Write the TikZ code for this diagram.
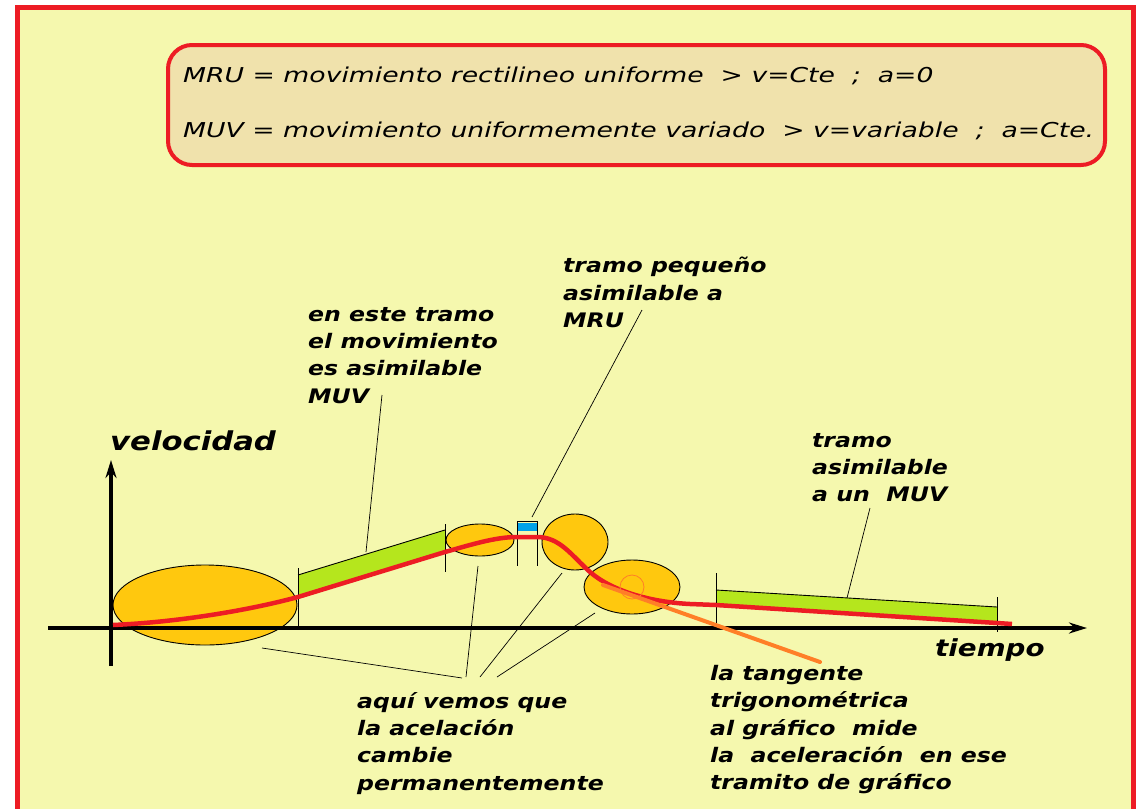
\documentclass[tikz,border=0pt]{standalone}
\usepackage{fontspec}
\newfontfamily\mano[FakeStretch=1.18]{DejaVu Sans}
\newfontfamily\manocab[FakeStretch=1.3]{DejaVu Sans}
\usetikzlibrary{arrows.meta}
\definecolor{fondo}{RGB}{245,248,174}
\definecolor{marco}{RGB}{237,28,36}
\definecolor{caja}{RGB}{240,226,172}
\definecolor{ambar}{RGB}{255,200,14}
\definecolor{lima}{RGB}{181,230,29}
\definecolor{celeste}{RGB}{0,162,232}
\definecolor{naranja}{RGB}{255,127,39}
\tikzset{
  zona/.style={draw=black, fill=ambar, line width=0.9pt},
  corte/.style={line width=0.9pt},
  guia/.style={line width=0.7pt},
  eje/.style={line width=3.6pt, -{Stealth[length=18pt,width=11pt]}},
  rotulo/.style={font=\mano\bfseries\itshape\fontsize{20}{27.3}\selectfont, align=left, anchor=north west, inner sep=0pt},
  titulo/.style={font=\manocab\itshape\fontsize{20.5}{23}\selectfont, anchor=base west, inner sep=0pt},
}
\begin{document}
\begin{tikzpicture}[x=1pt, y=-1pt]
	\useasboundingbox (0,0) rectangle (1136,809);
	\draw[marco, line width=5pt, fill=fondo] (17.5,7.5) rectangle (1133.5,830);
	\draw[marco, line width=4pt, fill=caja, rounded corners=24pt] (168,45) rectangle (1105,165);
	\node[titulo] (mru) at (183,82) {MRU = movimiento rectilineo uniforme \ > v=Cte \ ; \ a=0};
	\node[titulo] (muv) at (183,137) {MUV = movimiento uniformemente variado \ > v=variable \ ; \ a=Cte.};

	\draw[zona] (205,605) ellipse (92 and 40);
	\fill[lima] (298,575) -- (445,530) -- (445,552) -- (298,597) -- cycle;
	\draw[corte] (298,575) -- (445,530);
	\draw[corte] (298,568) -- (298,630);
	\draw[corte] (445,524) -- (445,572);
	\draw[zona] (480,540) ellipse (34 and 16);
	\fill[celeste] (517,523) rectangle (537,531);
	\draw[corte] (517,521) -- (537,521);
	\draw[corte] (517,521) -- (517,566);
	\draw[corte] (537,521) -- (537,566);
	\draw[zona] (575,542) ellipse (33 and 28);
	\draw[zona] (632,587) ellipse (48 and 27);
	\fill[lima] (716,590) -- (997,607) -- (997,623) -- (716,605) -- cycle;
	\draw[corte] (716,590) -- (997,607);
	\draw[corte] (716,573) -- (716,628);
	\draw[corte] (997,597) -- (997,632);

	\draw[eje] (48,628) -- (1087,628);
	\draw[eje] (111,666) -- (111,460);

	\draw[marco, line width=4.5pt] (113,625) .. controls (180,622) and (250,610) .. (298,597)
		-- (445,552) .. controls (470,545) and (495,537) .. (517,537) -- (537,537)
		.. controls (560,537) and (572,556) .. (590,572) .. controls (612,591) and (650,602) .. (690,604)
		-- (716,605) -- (997,623) -- (1012,624);
	\draw[naranja, line width=0.8pt] (632,587) circle (12);
	\draw[naranja, line width=4pt, line cap=round] (603,585) -- (820,662);

	\node[font=\mano\bfseries\itshape\fontsize{26}{30}\selectfont, anchor=base west, inner sep=0pt] (vel) at (110,450) {velocidad};
	\node[font=\mano\bfseries\itshape\fontsize{23.5}{30}\selectfont, anchor=base west, inner sep=0pt] (tiempo) at (935,656) {tiempo};

	\node[rotulo] (asimuv) at (308,307) {en este tramo\\el movimiento\\es asimilable\\MUV};
	\node[rotulo] (pequeno) at (563,257) {tramo pequeño\\asimilable a\\MRU};
	\node[rotulo] (final) at (812,433) {tramo\\asimilable\\a un \ MUV};
	\node[rotulo] (acel) at (357,692) {aquí vemos que\\la acelación\\cambie\\permanentemente};
	\node[rotulo] (tang) at (710,665) {la tangente\\trigonométrica\\al gráfico \ mide\\la \ aceleración \ en ese\\tramito de gráfico};

	\coordinate (m1) at (382,395);
	\coordinate (m2) at (366,552);
	\coordinate (r1) at (642,310);
	\coordinate (r2) at (532,517);
	\coordinate (f1) at (870,508);
	\coordinate (f2) at (847,598);
	\coordinate (a0) at (262,648);
	\coordinate (a1) at (462,678);
	\coordinate (b0) at (478,566);
	\coordinate (b1) at (466,677);
	\coordinate (c0) at (562,573);
	\coordinate (c1) at (480,677);
	\coordinate (d0) at (595,613);
	\coordinate (d1) at (497,677);
	\draw[guia] (m1) -- (m2);
	\draw[guia] (r1) -- (r2);
	\draw[guia] (f1) -- (f2);
	\draw[guia] (a0) -- (a1);
	\draw[guia] (b0) -- (b1);
	\draw[guia] (c0) -- (c1);
	\draw[guia] (d0) -- (d1);
\end{tikzpicture}
\end{document}
